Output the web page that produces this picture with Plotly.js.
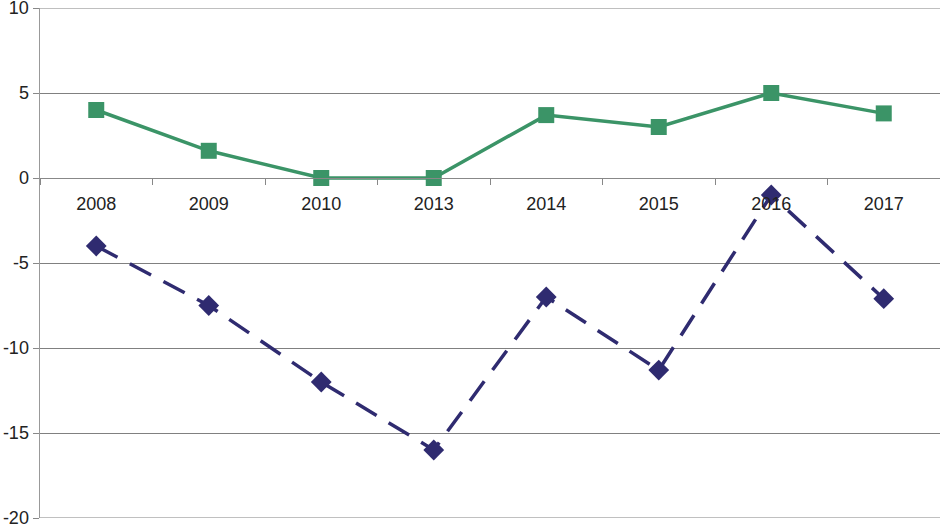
<!DOCTYPE html>
<html><head><meta charset="utf-8">
<script src="https://cdn.plot.ly/plotly-3.0.1.min.js"></script>
<style>html,body{margin:0;padding:0;background:#fff;}</style>
</head><body>
<div id="chart" style="width:940px;height:526px;"></div>
<script>
const years = ['2008','2009','2010','2013','2014','2015','2016','2017'];
const seriesGreen = [4, 1.6, 0, 0, 3.7, 3, 5, 3.8];
const seriesBlue = [-4, -7.5, -12, -16, -7, -11.3, -1, -7.1];
const yTicks = [-20, -15, -10, -5, 0, 5, 10];
const yTickText = ['-20', '-15', '-10', '-5', '0', '5', '10'];

const traces = [
  {x: years, y: seriesGreen, type: 'scatter', mode: 'lines+markers',
   line: {color: '#3b9467', width: 3.5},
   marker: {symbol: 'square', size: 16, color: '#3b9467'}, cliponaxis: false},
  {x: years, y: seriesBlue, type: 'scatter', mode: 'lines+markers',
   line: {color: '#2f2b70', width: 3.5, dash: '24px,14px'},
   marker: {symbol: 'diamond', size: 16, color: '#2f2b70'}, cliponaxis: false}
];
const edgeLines = [yTicks[0], yTicks[yTicks.length - 1]].map(v => ({
  type: 'line', xref: 'paper', yref: 'y', x0: 0, x1: 1, y0: v, y1: v,
  line: {color: '#808080', width: 1}, layer: 'below'
}));
const layout = {
  width: 940, height: 526,
  margin: {l: 40, r: 0, t: 8, b: 8},
  paper_bgcolor: '#fff', plot_bgcolor: '#fff',
  showlegend: false,
  font: {family: 'Liberation Sans, Arial, sans-serif', size: 18, color: '#222'},
  shapes: edgeLines,
  xaxis: {type: 'category', range: [-0.5, 7.5], anchor: 'free', position: 2/3,
    showline: true, linecolor: '#888', linewidth: 1, showgrid: false,
    ticks: 'outside', tickson: 'boundaries', ticklen: 6, tickcolor: '#888',
    ticklabelstandoff: 9, tickfont: {size: 18}, zeroline: false},
  yaxis: {range: [-20, 10], tickvals: yTicks, ticktext: yTickText, ticklabeloverflow: 'allow',
    showline: true, linecolor: '#999', linewidth: 1.5,
    showgrid: true, gridcolor: '#808080', gridwidth: 1, zeroline: false,
    ticks: 'outside', ticklen: 6, tickcolor: '#888', tickfont: {size: 18}}
};
Plotly.newPlot('chart', traces, layout, {displayModeBar: false, staticPlot: true});
</script>
</body></html>
